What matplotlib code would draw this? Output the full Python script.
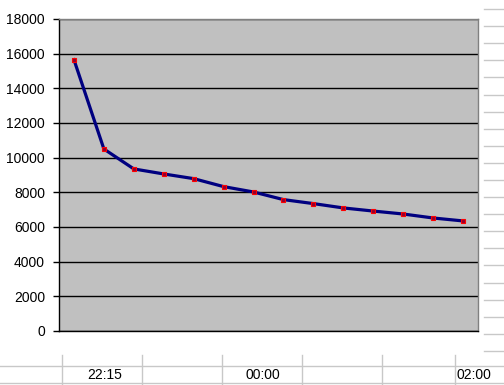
import matplotlib
matplotlib.use("Agg")
import matplotlib.pyplot as plt
from matplotlib.lines import Line2D

# values (one point per interval)
points = list(range(14))
values = [15650, 10500, 9350, 9060, 8790, 8330, 8020,
          7580, 7350, 7100, 6920, 6750, 6520, 6350]
yticks = [0, 2000, 4000, 6000, 8000, 10000, 12000, 14000, 16000, 18000]
cell_labels = ["22:15", "00:00", "02:00"]

W, H = 504, 385
plt.rcParams["font.family"] = ["Liberation Sans", "DejaVu Sans"]

fig = plt.figure(figsize=(W / 100, H / 100), dpi=100)
fig.patch.set_facecolor("white")

def fx(x):
    return x / W

def fy(y):
    return 1 - y / H

# plot area in pixels: left 59, right 478, top 19, bottom 331
ax = fig.add_axes([fx(59), fy(331), (478 - 59) / W, (331 - 19) / H])
ax.set_facecolor("#c0c0c0")
ax.plot(points, values, color="#000080", lw=2.3, marker="s", ms=3,
        mec="#ff0000", mfc="#900030", mew=0.8, zorder=3)

ax.set_xlim(-0.5, len(points) - 0.5)
ax.set_ylim(0, 18000)
ax.set_yticks(yticks)
ax.set_yticklabels([str(v) for v in yticks], fontsize=10)
ax.set_xticks([])
ax.tick_params(axis="y", length=4, width=1, color="black", pad=6)
ax.yaxis.grid(True, color="black", lw=1)
ax.set_axisbelow(True)
for side in ["left", "bottom"]:
    ax.spines[side].set_color("black")
    ax.spines[side].set_linewidth(1)
for side in ["top", "right"]:
    ax.spines[side].set_color("#808080")
    ax.spines[side].set_linewidth(1)

# spreadsheet cells below the chart
grey = "#c8c8c8"
for x in [62, 142, 222, 302, 382, 455]:
    fig.add_artist(Line2D([fx(x), fx(x)], [fy(355), fy(385)], color=grey, lw=1))
for y in [366, 383]:
    fig.add_artist(Line2D([0, 1], [fy(y), fy(y)], color=grey, lw=1))
for lab, x in zip(cell_labels, [105, 263, 474]):
    fig.text(fx(x), fy(375), lab, ha="center", va="center", fontsize=10)

# row lines to the right of the chart
y = 9
while y < 355:
    fig.add_artist(Line2D([fx(484), fx(504)], [fy(y), fy(y)], color=grey, lw=1))
    y += 17.1

fig.savefig("out.png", dpi=100)
